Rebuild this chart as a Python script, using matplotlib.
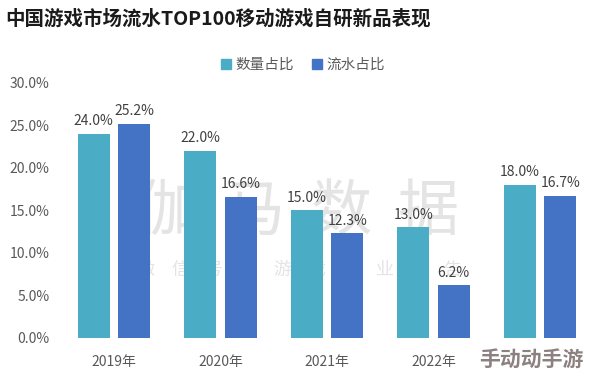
import matplotlib.pyplot as plt
import numpy as np
from matplotlib.patches import Patch

plt.rcParams["font.family"] = ["Noto Sans CJK SC", "DejaVu Sans"]

TITLE = "中国游戏市场流水TOP100移动游戏自研新品表现"
CATEGORIES = ["2019年", "2020年", "2021年", "2022年", ""]
COUNT_SHARE = [24.0, 22.0, 15.0, 13.0, 18.0]     # 数量占比
REVENUE_SHARE = [25.2, 16.6, 12.3, 6.2, 16.7]    # 流水占比
SERIES_NAMES = ["数量占比", "流水占比"]
Y_TICKS = [0, 5, 10, 15, 20, 25, 30]

TEAL = "#4BACC6"
BLUE = "#4472C4"
TEXT_GRAY = "#595959"
MARK_GRAY = "#e4e4e4"


def main():
    fig = plt.figure(figsize=(5.94, 3.77), dpi=100)
    ax = fig.add_axes([0.102, 0.1035, 0.897, 0.677])

    x = np.arange(len(CATEGORIES))
    offset = 0.19
    width = 0.30

    # faint watermark behind the bars
    for i, ch in enumerate("伽马数据"):
        fig.text((167 + 87 * i) / 594, 1 - 213 / 377, ch, fontsize=44,
                 color=MARK_GRAY, ha="center", va="center", zorder=0,
                 fontweight="light")
    for i, ch in enumerate("微信号：游戏产业报告"):
        fig.text((146 + 34.1 * i) / 594, 1 - 270 / 377, ch, fontsize=13,
                 color=MARK_GRAY, ha="center", va="center", zorder=0)
    ax.set_zorder(1)
    ax.patch.set_alpha(0)

    bars1 = ax.bar(x - offset, COUNT_SHARE, width, color=TEAL)
    bars2 = ax.bar(x + offset, REVENUE_SHARE, width, color=BLUE)

    for bars, values in [(bars1, COUNT_SHARE), (bars2, REVENUE_SHARE)]:
        for b, v in zip(bars, values):
            ax.annotate(f"{v:.1f}%", (b.get_x() + b.get_width() / 2, v),
                        xytext=(0, 4), textcoords="offset points",
                        ha="center", va="bottom", fontsize=10, color="#404040")

    ax.set_xlim(-0.5, 4.5)
    ax.set_ylim(0, 30)
    ax.set_yticks(Y_TICKS)
    ax.set_yticklabels([f"{t:.1f}%" for t in Y_TICKS])
    ax.set_xticks(x)
    ax.set_xticklabels(CATEGORIES)
    ax.tick_params(length=0, labelsize=10, labelcolor=TEXT_GRAY)
    ax.tick_params(axis="x", pad=12)
    ax.tick_params(axis="y", pad=8)
    for s in ax.spines.values():
        s.set_visible(False)

    handles = [Patch(color=TEAL), Patch(color=BLUE)]
    fig.legend(handles, SERIES_NAMES, loc="center", ncol=2,
               bbox_to_anchor=(0.51, 1 - 65 / 377), frameon=False,
               fontsize=10.5, handlelength=0.7, handleheight=0.7,
               handletextpad=0.3, columnspacing=1.2, labelcolor=TEXT_GRAY)

    fig.text(0.008, 1 - 19 / 377, TITLE, fontsize=14, fontweight="bold",
             color="#1a1a1a", ha="left", va="center")

    # site watermark in the bottom-right corner
    fig.text(583 / 594, 1 - 359 / 377, "手动动手游", fontsize=15,
             fontweight="bold", color="#8c8080", ha="right", va="center")

    fig.savefig("out.png", dpi=100)
    plt.close(fig)


if __name__ == "__main__":
    main()
